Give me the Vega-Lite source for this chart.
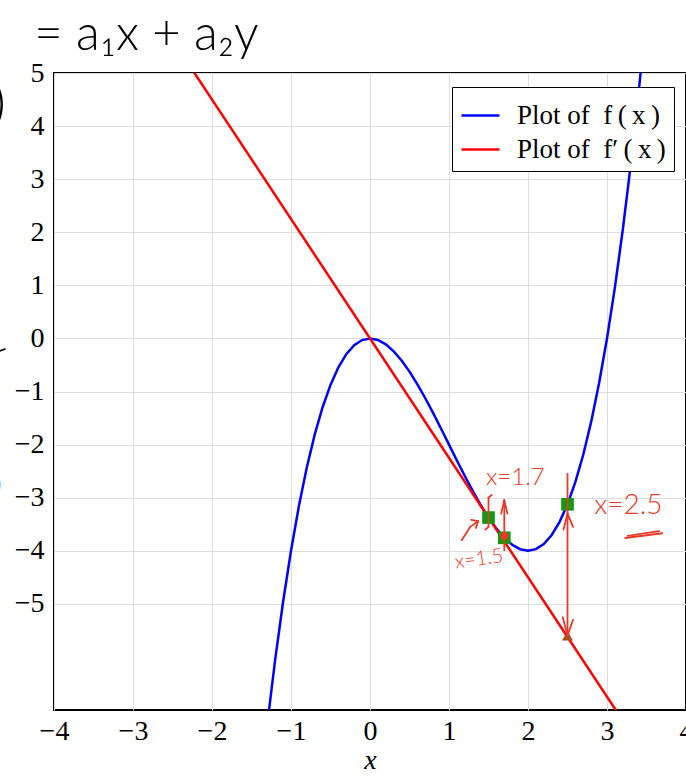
{
  "$schema": "https://vega.github.io/schema/vega-lite/v6.json",
  "width": 632,
  "height": 637,
  "autosize": {"type": "none"},
  "padding": {"left": 54, "top": 73, "right": 0, "bottom": 67},
  "background": "white",
  "config": {
    "view": {"stroke": "black", "strokeWidth": 2},
    "font": "Liberation Serif",
    "axis": {
      "grid": true,
      "gridColor": "#dddddd",
      "gridWidth": 1,
      "domain": false,
      "ticks": false,
      "labelFlush": false,
      "labelOverlap": false,
      "labelFont": "Liberation Serif",
      "labelFontSize": 28,
      "labelColor": "black",
      "titleFont": "Liberation Serif",
      "titleFontSize": 28,
      "titleFontWeight": "normal",
      "titleFontStyle": "italic",
      "titleColor": "black"
    },
    "legend": {
      "labelFont": "Liberation Serif",
      "labelFontSize": 27,
      "labelColor": "black"
    }
  },
  "datasets": {
    "curves": [
      {"x": -1.3, "y": -7.267, "series": "Plot of f(x)"},
      {"x": -1.2, "y": -6.048, "series": "Plot of f(x)"},
      {"x": -1.1, "y": -4.961, "series": "Plot of f(x)"},
      {"x": -1.0, "y": -4.0, "series": "Plot of f(x)"},
      {"x": -0.9, "y": -3.159, "series": "Plot of f(x)"},
      {"x": -0.8, "y": -2.432, "series": "Plot of f(x)"},
      {"x": -0.7, "y": -1.813, "series": "Plot of f(x)"},
      {"x": -0.6, "y": -1.296, "series": "Plot of f(x)"},
      {"x": -0.5, "y": -0.875, "series": "Plot of f(x)"},
      {"x": -0.4, "y": -0.544, "series": "Plot of f(x)"},
      {"x": -0.3, "y": -0.297, "series": "Plot of f(x)"},
      {"x": -0.2, "y": -0.128, "series": "Plot of f(x)"},
      {"x": -0.1, "y": -0.031, "series": "Plot of f(x)"},
      {"x": 0.0, "y": 0.0, "series": "Plot of f(x)"},
      {"x": 0.1, "y": -0.029, "series": "Plot of f(x)"},
      {"x": 0.2, "y": -0.112, "series": "Plot of f(x)"},
      {"x": 0.3, "y": -0.243, "series": "Plot of f(x)"},
      {"x": 0.4, "y": -0.416, "series": "Plot of f(x)"},
      {"x": 0.5, "y": -0.625, "series": "Plot of f(x)"},
      {"x": 0.6, "y": -0.864, "series": "Plot of f(x)"},
      {"x": 0.7, "y": -1.127, "series": "Plot of f(x)"},
      {"x": 0.8, "y": -1.408, "series": "Plot of f(x)"},
      {"x": 0.9, "y": -1.701, "series": "Plot of f(x)"},
      {"x": 1.0, "y": -2.0, "series": "Plot of f(x)"},
      {"x": 1.1, "y": -2.299, "series": "Plot of f(x)"},
      {"x": 1.2, "y": -2.592, "series": "Plot of f(x)"},
      {"x": 1.3, "y": -2.873, "series": "Plot of f(x)"},
      {"x": 1.4, "y": -3.136, "series": "Plot of f(x)"},
      {"x": 1.5, "y": -3.375, "series": "Plot of f(x)"},
      {"x": 1.6, "y": -3.584, "series": "Plot of f(x)"},
      {"x": 1.7, "y": -3.757, "series": "Plot of f(x)"},
      {"x": 1.8, "y": -3.888, "series": "Plot of f(x)"},
      {"x": 1.9, "y": -3.971, "series": "Plot of f(x)"},
      {"x": 2.0, "y": -4.0, "series": "Plot of f(x)"},
      {"x": 2.1, "y": -3.969, "series": "Plot of f(x)"},
      {"x": 2.2, "y": -3.872, "series": "Plot of f(x)"},
      {"x": 2.3, "y": -3.703, "series": "Plot of f(x)"},
      {"x": 2.4, "y": -3.456, "series": "Plot of f(x)"},
      {"x": 2.5, "y": -3.125, "series": "Plot of f(x)"},
      {"x": 2.6, "y": -2.704, "series": "Plot of f(x)"},
      {"x": 2.7, "y": -2.187, "series": "Plot of f(x)"},
      {"x": 2.8, "y": -1.568, "series": "Plot of f(x)"},
      {"x": 2.9, "y": -0.841, "series": "Plot of f(x)"},
      {"x": 3.0, "y": 0.0, "series": "Plot of f(x)"},
      {"x": 3.1, "y": 0.961, "series": "Plot of f(x)"},
      {"x": 3.2, "y": 2.048, "series": "Plot of f(x)"},
      {"x": 3.3, "y": 3.267, "series": "Plot of f(x)"},
      {"x": 3.4, "y": 4.624, "series": "Plot of f(x)"},
      {"x": 3.5, "y": 6.125, "series": "Plot of f(x)"},
      {"x": -2.4, "y": 5.4, "series": "Plot of f′(x)"},
      {"x": 3.2, "y": -7.2, "series": "Plot of f′(x)"}
    ],
    "squares": [
      {"x": 1.5, "y": -3.375},
      {"x": 1.7, "y": -3.757},
      {"x": 2.5, "y": -3.125}
    ],
    "triangles": [
      {"x": 2.5, "y": -5.6}
    ],
    "dots": [
      {"x": 1.7, "y": -3.72}
    ],
    "strokes": [
      {"x": 2.5, "y": -2.55, "x2": 2.5, "y2": -5.6},
      {"x": 2.5, "y": -3.3, "x2": 2.45, "y2": -3.6},
      {"x": 2.5, "y": -3.3, "x2": 2.57, "y2": -3.55},
      {"x": 2.44, "y": -5.25, "x2": 2.5, "y2": -5.6},
      {"x": 2.57, "y": -5.3, "x2": 2.5, "y2": -5.6},
      {"x": 1.7, "y": -3.04, "x2": 1.7, "y2": -3.99},
      {"x": 1.66, "y": -3.3, "x2": 1.7, "y2": -3.05},
      {"x": 1.74, "y": -3.3, "x2": 1.7, "y2": -3.05},
      {"x": 1.5, "y": -3.0, "x2": 1.5, "y2": -3.55},
      {"x": 1.5, "y": -3.0, "x2": 1.54, "y2": -2.95},
      {"x": 1.5, "y": -3.55, "x2": 1.46, "y2": -3.6},
      {"x": 1.16, "y": -3.8, "x2": 1.27, "y2": -3.55},
      {"x": 1.27, "y": -3.55, "x2": 1.37, "y2": -3.44},
      {"x": 1.37, "y": -3.44, "x2": 1.28, "y2": -3.42},
      {"x": 1.37, "y": -3.44, "x2": 1.34, "y2": -3.57},
      {"x": 3.23, "y": -3.76, "x2": 3.7, "y2": -3.67},
      {"x": 3.26, "y": -3.72, "x2": 3.66, "y2": -3.63}
    ],
    "inkstrokes": [
      {"x": -4.69, "y": -0.24, "x2": -4.62, "y2": -0.2}
    ],
    "notes": [
      {"x": 1.84, "y": -2.63, "label": "x=1.7", "size": 24, "angle": 0},
      {"x": 1.38, "y": -4.16, "label": "x=1.5", "size": 20, "angle": -8},
      {"x": 3.27, "y": -3.16, "label": "x=2.5", "size": 28, "angle": 0}
    ],
    "ink": [
      {"x": -2.83, "y": 5.72, "label": "= a₁x + a₂y", "size": 49},
      {"x": -4.7, "y": 4.4, "label": ")", "size": 56},
      {"x": -4.71, "y": -2.76, "label": ")", "size": 30}
    ]
  },
  "layer": [
    {
      "data": {"name": "curves"},
      "mark": {"type": "line", "strokeWidth": 2.5, "clip": true},
      "encoding": {
        "x": {
          "field": "x", "type": "quantitative",
          "scale": {"domain": [-4, 4], "nice": false, "zero": false},
          "axis": {"values": [-4, -3, -2, -1, 0, 1, 2, 3, 4], "format": "d", "title": "x", "labelPadding": 7, "titlePadding": 1, "labelFontSize": 28, "titleFontSize": 28, "labelFlush": false}
        },
        "y": {
          "field": "y", "type": "quantitative",
          "scale": {"domain": [-7, 5], "nice": false, "zero": false},
          "axis": {"values": [-5, -4, -3, -2, -1, 0, 1, 2, 3, 4, 5], "format": "d", "title": null, "labelPadding": 10, "labelFontSize": 28, "labelFlush": false}
        },
        "color": {
          "field": "series", "type": "nominal",
          "scale": {"domain": ["Plot of f(x)", "Plot of f′(x)"], "range": ["#0000ff", "#ff0000"]},
          "legend": {
            "title": null,
            "orient": "none",
            "legendX": 398,
            "legendY": 14,
            "padding": 8,
            "strokeColor": "black",
            "fillColor": "white",
            "symbolType": "stroke",
            "symbolSize": 1444,
            "symbolStrokeWidth": 2.5,
            "rowPadding": 0,
            "labelOffset": 16,
            "labelFontSize": 27,
            "labelExpr": "datum.label == 'Plot of f(x)' ? 'Plot of\u00a0 f\u2009(\u2009x\u2009)' : 'Plot of\u00a0 f′\u2009(\u2009x\u2009)'"
          }
        }
      }
    },
    {
      "data": {"name": "squares"},
      "mark": {"type": "point", "shape": "square", "filled": true, "opacity": 1, "size": 160, "color": "#119a11"},
      "encoding": {
        "x": {"field": "x", "type": "quantitative"},
        "y": {"field": "y", "type": "quantitative"}
      }
    },
    {
      "data": {"name": "triangles"},
      "mark": {"type": "point", "shape": "triangle-up", "filled": true, "opacity": 1, "size": 120, "color": "#a4501c"},
      "encoding": {
        "x": {"field": "x", "type": "quantitative"},
        "y": {"field": "y", "type": "quantitative"}
      }
    },
    {
      "data": {"name": "dots"},
      "mark": {"type": "point", "shape": "circle", "filled": true, "opacity": 1, "size": 70, "color": "#e8392a"},
      "encoding": {
        "x": {"field": "x", "type": "quantitative"},
        "y": {"field": "y", "type": "quantitative"}
      }
    },
    {
      "data": {"name": "strokes"},
      "mark": {"type": "rule", "color": "#e8392a", "strokeWidth": 1.8, "strokeCap": "round"},
      "encoding": {
        "x": {"field": "x", "type": "quantitative"},
        "y": {"field": "y", "type": "quantitative"},
        "x2": {"field": "x2"},
        "y2": {"field": "y2"}
      }
    },
    {
      "data": {"name": "inkstrokes"},
      "mark": {"type": "rule", "color": "black", "strokeWidth": 1.6, "strokeCap": "round"},
      "encoding": {
        "x": {"field": "x", "type": "quantitative"},
        "y": {"field": "y", "type": "quantitative"},
        "x2": {"field": "x2"},
        "y2": {"field": "y2"}
      }
    },
    {
      "data": {"name": "notes"},
      "mark": {"type": "text", "color": "#e8392a", "font": "Lato", "fontWeight": 300, "align": "center", "baseline": "middle"},
      "encoding": {
        "x": {"field": "x", "type": "quantitative"},
        "y": {"field": "y", "type": "quantitative"},
        "text": {"field": "label"},
        "size": {"field": "size", "type": "quantitative", "scale": null},
        "angle": {"field": "angle", "type": "quantitative", "scale": null}
      }
    },
    {
      "data": {"name": "ink"},
      "mark": {"type": "text", "color": "black", "font": "Lato", "fontWeight": 300, "align": "center", "baseline": "middle"},
      "encoding": {
        "x": {"field": "x", "type": "quantitative"},
        "y": {"field": "y", "type": "quantitative"},
        "text": {"field": "label"},
        "size": {"field": "size", "type": "quantitative", "scale": null}
      }
    }
  ]
}
